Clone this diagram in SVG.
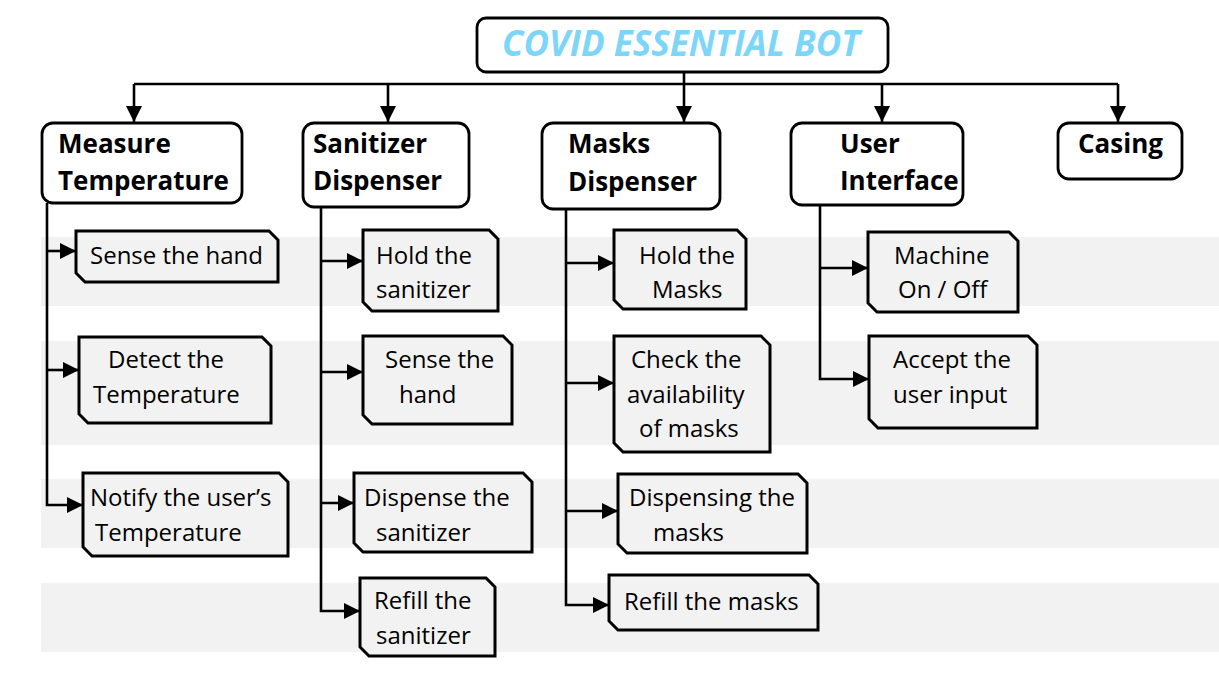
<svg xmlns="http://www.w3.org/2000/svg" width="1219" height="679" viewBox="0 0 1219 679">
<style>
.band{fill:#f2f2f2}
.top{fill:#fff;stroke:#000;stroke-width:2.8}
.leaf{fill:#f2f2f2;stroke:#000;stroke-width:3}
.hd{font-family:"Open Sans","Noto Sans",sans-serif;font-weight:bold;font-size:26px;fill:#000}
.lt{font-family:"Open Sans","Noto Sans",sans-serif;font-size:24px;fill:#000}
.ttl{font-family:"Open Sans","Noto Sans",sans-serif;font-weight:bold;font-style:italic;font-size:35px;fill:#7dd6f7}
.cn{fill:none;stroke:#000;stroke-width:2.6}
</style>
<defs>
<marker id="ah" markerUnits="userSpaceOnUse" markerWidth="18" markerHeight="18" refX="16" refY="8" orient="auto">
<path d="M0,0 L16,8 L0,16 Z" fill="#000"/>
</marker>
</defs>
<rect width="1219" height="679" fill="#fff"/>
<g id="bands">
<rect class="band" x="41" y="237" width="1178" height="69"/>
<rect class="band" x="41" y="341" width="1178" height="104"/>
<rect class="band" x="41" y="479" width="1178" height="69"/>
<rect class="band" x="41" y="583" width="1178" height="69"/>
</g>
<g id="connectors">
<path class="cn" d="M134,84 H1118"/>
<path class="cn" d="M684,72 V122" marker-end="url(#ah)"/>
<path class="cn" d="M134,84 V122" marker-end="url(#ah)"/>
<path class="cn" d="M388,84 V122" marker-end="url(#ah)"/>
<path class="cn" d="M882,84 V122" marker-end="url(#ah)"/>
<path class="cn" d="M1118,84 V122" marker-end="url(#ah)"/>
<path class="cn" d="M47,203 V505 H83" marker-end="url(#ah)"/>
<path class="cn" d="M47,251 H76" marker-end="url(#ah)"/>
<path class="cn" d="M47,370 H79" marker-end="url(#ah)"/>
<path class="cn" d="M321,207 V611 H360" marker-end="url(#ah)"/>
<path class="cn" d="M321,261 H363" marker-end="url(#ah)"/>
<path class="cn" d="M321,372 H363" marker-end="url(#ah)"/>
<path class="cn" d="M321,503 H354" marker-end="url(#ah)"/>
<path class="cn" d="M566,209 V605 H609" marker-end="url(#ah)"/>
<path class="cn" d="M566,263 H614" marker-end="url(#ah)"/>
<path class="cn" d="M566,383 H614" marker-end="url(#ah)"/>
<path class="cn" d="M566,511 H618" marker-end="url(#ah)"/>
<path class="cn" d="M820,205 V379 H869" marker-end="url(#ah)"/>
<path class="cn" d="M820,268 H868" marker-end="url(#ah)"/>
</g>
<g id="title">
<rect class="top" x="477" y="18" width="411" height="54" rx="9"/>
<text class="ttl" x="681" y="56" text-anchor="middle">COVID ESSENTIAL BOT</text>
</g>
<g id="measure-temperature">
<rect class="top" x="42" y="123" width="200" height="80" rx="11"/>
<text class="hd" x="58" y="153">Measure</text>
<text class="hd" x="58" y="190">Temperature</text>
</g>
<g id="sanitizer-dispenser">
<rect class="top" x="303" y="123" width="166" height="84" rx="11"/>
<text class="hd" x="313" y="153">Sanitizer</text>
<text class="hd" x="313" y="190">Dispenser</text>
</g>
<g id="masks-dispenser">
<rect class="top" x="542" y="123" width="178" height="86" rx="11"/>
<text class="hd" x="568" y="153">Masks</text>
<text class="hd" x="568" y="191">Dispenser</text>
</g>
<g id="user-interface">
<rect class="top" x="791" y="123" width="172" height="82" rx="11"/>
<text class="hd" x="840" y="153">User</text>
<text class="hd" x="840" y="190">Interface</text>
</g>
<g id="casing">
<rect class="top" x="1058" y="123" width="124" height="56" rx="11"/>
<text class="hd" x="1078" y="153">Casing</text>
</g>
<g id="sense-hand-1">
<path class="leaf" d="M76,231 H269 L278,240 V282 H85 L76,273 Z"/>
<text class="lt" x="90" y="264">Sense the hand</text>
</g>
<g id="detect-temperature">
<path class="leaf" d="M79,337 H262 L271,346 V423 H88 L79,414 Z"/>
<text class="lt" x="108" y="368">Detect the</text>
<text class="lt" x="93" y="403">Temperature</text>
</g>
<g id="notify-user">
<path class="leaf" d="M83,473 H279 L288,482 V556 H92 L83,547 Z"/>
<text class="lt" x="90" y="506">Notify the user’s</text>
<text class="lt" x="95" y="541">Temperature</text>
</g>
<g id="hold-sanitizer">
<path class="leaf" d="M363,230 H489 L498,239 V311 H372 L363,302 Z"/>
<text class="lt" x="376" y="264">Hold the</text>
<text class="lt" x="376" y="298">sanitizer</text>
</g>
<g id="sense-hand-2">
<path class="leaf" d="M363,336 H503 L512,345 V424 H372 L363,415 Z"/>
<text class="lt" x="385" y="368">Sense the</text>
<text class="lt" x="399" y="403">hand</text>
</g>
<g id="dispense-sanitizer">
<path class="leaf" d="M354,473 H523 L532,482 V552 H363 L354,543 Z"/>
<text class="lt" x="364" y="506">Dispense the</text>
<text class="lt" x="376" y="541">sanitizer</text>
</g>
<g id="refill-sanitizer">
<path class="leaf" d="M360,578 H486 L495,587 V656 H369 L360,647 Z"/>
<text class="lt" x="374" y="609">Refill the</text>
<text class="lt" x="376" y="644">sanitizer</text>
</g>
<g id="hold-masks">
<path class="leaf" d="M614,230 H737 L746,239 V309 H623 L614,300 Z"/>
<text class="lt" x="639" y="264">Hold the</text>
<text class="lt" x="652" y="298">Masks</text>
</g>
<g id="check-masks">
<path class="leaf" d="M614,336 H761 L770,345 V452 H623 L614,443 Z"/>
<text class="lt" x="631" y="368">Check the</text>
<text class="lt" x="627" y="403">availability</text>
<text class="lt" x="639" y="437">of masks</text>
</g>
<g id="dispensing-masks">
<path class="leaf" d="M618,474 H798 L807,483 V553 H627 L618,544 Z"/>
<text class="lt" x="629" y="506">Dispensing the</text>
<text class="lt" x="653" y="541">masks</text>
</g>
<g id="refill-masks">
<path class="leaf" d="M609,575 H809 L818,584 V630 H618 L609,621 Z"/>
<text class="lt" x="624" y="610">Refill the masks</text>
</g>
<g id="machine-onoff">
<path class="leaf" d="M868,232 H1009 L1018,241 V312 H877 L868,303 Z"/>
<text class="lt" x="894" y="264">Machine</text>
<text class="lt" x="898" y="298">On / Off</text>
</g>
<g id="accept-input">
<path class="leaf" d="M869,336 H1028 L1037,345 V428 H878 L869,419 Z"/>
<text class="lt" x="893" y="368">Accept the</text>
<text class="lt" x="893" y="403">user input</text>
</g>
</svg>
